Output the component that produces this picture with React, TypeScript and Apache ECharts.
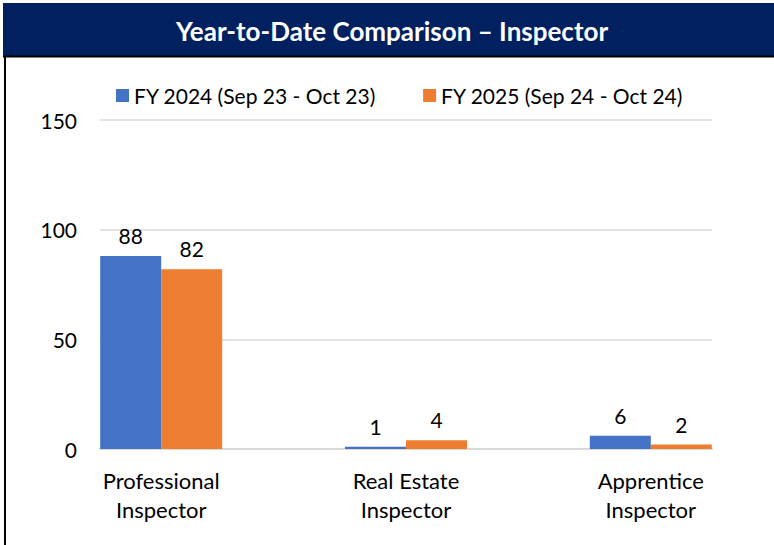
import React, { useEffect, useRef } from "react";
import * as echarts from "echarts";

const categories = ["Professional\nInspector", "Real Estate\nInspector", "Apprentice\nInspector"];
const seriesNames = ["FY 2024 (Sep 23 - Oct 23)", "FY 2025 (Sep 24 - Oct 24)"];
const fy2024 = [88, 1, 6];
const fy2025 = [82, 4, 2];
const yTicks = { min: 0, max: 150, interval: 50 };
const titleText = "Year-to-Date Comparison \u2013 Inspector";

const FONT = "Lato";

export default function App() {
  const ref = useRef<HTMLDivElement>(null);
  useEffect(() => {
    if (!ref.current) return;
    const chart = echarts.init(ref.current, undefined, { renderer: "svg" });
    const toPairs = (arr: number[]) => arr.map((v, i) => [i, v]);
    const labelCfg = {
      show: true,
      position: "top",
      distance: 10,
      color: "#000",
      fontSize: 21,
      fontFamily: FONT,
    };
    chart.setOption({
      animation: false,
      backgroundColor: "#fff",
      graphic: [
        { type: "rect", shape: { x: 3, y: 3, width: 771, height: 53 }, style: { fill: "#002060" } },
        { type: "line", shape: { x1: 3, y1: 56.5, x2: 774, y2: 56.5 }, style: { stroke: "#000", lineWidth: 2 } },
        { type: "line", shape: { x1: 5, y1: 56, x2: 5, y2: 545 }, style: { stroke: "#000", lineWidth: 2 } },
        {
          type: "text",
          x: 392,
          y: 31,
          style: {
            text: titleText,
            fill: "#fff",
            font: `bold 26px ${FONT}`,
            align: "center",
            verticalAlign: "middle",
          },
        },
      ],
      legend: {
        left: 111,
        top: 80,
        itemWidth: 13,
        itemHeight: 13,
        itemGap: 47,
        icon: "rect",
        textStyle: { fontSize: 21, fontFamily: FONT, color: "#000" },
        data: seriesNames,
      },
      grid: { left: 100, top: 120, width: 612, height: 329 },
      xAxis: {
        type: "value",
        min: -0.25,
        max: 2.25,
        interval: 0.25,
        splitLine: { show: false },
        axisTick: { show: false },
        axisLine: { show: true, lineStyle: { color: "#d9d9d9", width: 2 } },
        axisLabel: {
          margin: 17,
          fontSize: 22,
          lineHeight: 29,
          fontFamily: FONT,
          color: "#000",
          formatter: (v: number) => {
            const r = Math.round(v);
            return Math.abs(v - r) < 1e-6 && r >= 0 && r < categories.length ? categories[r] : "";
          },
        },
      },
      yAxis: {
        type: "value",
        min: yTicks.min,
        max: yTicks.max,
        interval: yTicks.interval,
        axisLine: { show: false },
        axisTick: { show: false },
        splitLine: { lineStyle: { color: "#d9d9d9", width: 1.5 } },
        axisLabel: { margin: 23, fontSize: 21, fontFamily: FONT, color: "#000" },
      },
      series: [
        {
          name: seriesNames[0],
          type: "bar",
          data: toPairs(fy2024),
          barWidth: 61,
          barGap: "0%",
          itemStyle: { color: "#4472c4" },
          label: labelCfg,
        },
        {
          name: seriesNames[1],
          type: "bar",
          data: toPairs(fy2025),
          barWidth: 61,
          barGap: "0%",
          itemStyle: { color: "#ed7d31" },
          label: labelCfg,
        },
      ],
    });
    return () => chart.dispose();
  }, []);
  return (
    <div
      ref={ref}
      style={{ position: "fixed", left: 0, top: 0, width: 774, height: 545 }}
    />
  );
}
